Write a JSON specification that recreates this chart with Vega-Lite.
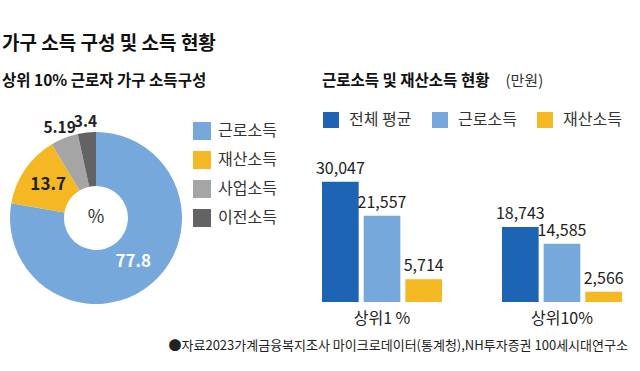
{
  "$schema": "https://vega.github.io/schema/vega-lite/v6.json",
  "background": "white",
  "padding": {"left": 2, "top": 35, "right": 0, "bottom": 0},
  "config": {"font": "Noto Sans CJK KR", "view": {"stroke": null}},
  "title": {"text": "가구 소득 구성 및 소득 현황", "anchor": "start", "fontSize": 19, "fontWeight": "bold", "color": "#111111", "offset": 19},
  "bounds": "flush",
  "spacing": 132,
  "resolve": {"scale": {"color": "independent"}, "legend": {"color": "independent"}},
  "hconcat": [
    {
      "width": 188,
      "height": 112,
      "title": {"text": "상위 10% 근로자 가구 소득구성", "anchor": "start", "fontSize": 15.5, "fontWeight": "bold", "color": "#111111", "offset": 25},
      "data": {"values": [
        {"type": "근로소득", "value": 77.8},
        {"type": "재산소득", "value": 13.7},
        {"type": "사업소득", "value": 5.19},
        {"type": "이전소득", "value": 3.4}
      ]},
      "layer": [
        {
          "mark": {"type": "arc", "innerRadius": 32, "outerRadius": 86},
          "encoding": {
            "theta": {"field": "value", "type": "quantitative", "stack": true},
            "order": {"field": "value", "type": "quantitative", "sort": "descending"},
            "color": {
              "field": "type", "type": "nominal",
              "scale": {"domain": ["근로소득", "재산소득", "사업소득", "이전소득"], "range": ["#77a8dc", "#f4b824", "#a5a5a5", "#636363"]},
              "legend": {"title": null, "orient": "none", "legendX": 191, "legendY": -40, "symbolType": "square", "symbolSize": 324, "symbolStrokeWidth": 0, "labelFontSize": 16, "labelColor": "#333333", "labelOffset": 7, "rowPadding": 11}
            }
          }
        },
        {
          "mark": {"type": "text", "radius": 58, "fontSize": 17, "fontWeight": "bold"},
          "encoding": {
            "theta": {"field": "value", "type": "quantitative", "stack": true},
            "order": {"field": "value", "type": "quantitative", "sort": "descending"},
            "text": {"condition": {"test": "datum.value > 10", "field": "value", "type": "nominal"}, "value": ""},
            "color": {"condition": {"test": "datum.value > 50", "value": "white"}, "value": "#222222"}
          }
        },
        {
          "mark": {"type": "text", "radius": 99, "dy": 2, "fontSize": 15.5, "fontWeight": "bold", "color": "#222222"},
          "encoding": {
            "theta": {"field": "value", "type": "quantitative", "stack": true},
            "order": {"field": "value", "type": "quantitative", "sort": "descending"},
            "text": {"condition": {"test": "datum.value < 10", "field": "value", "type": "nominal"}, "value": ""}
          }
        },
        {
          "data": {"values": [{"t": "%"}]},
          "mark": {"type": "text", "fontSize": 18, "color": "#333333"},
          "encoding": {"text": {"field": "t", "type": "nominal"}}
        }
      ]
    },
    {
      "width": 300,
      "height": 140,
      "title": {"text": "근로소득 및 재산소득 현황", "anchor": "start", "frame": "group", "fontSize": 15.5, "fontWeight": "bold", "color": "#111111", "offset": -16},
      "data": {"values": [
        {"group": "상위1 %", "series": "전체 평균", "value": 30047},
        {"group": "상위1 %", "series": "근로소득", "value": 21557},
        {"group": "상위1 %", "series": "재산소득", "value": 5714},
        {"group": "상위10%", "series": "전체 평균", "value": 18743},
        {"group": "상위10%", "series": "근로소득", "value": 14585},
        {"group": "상위10%", "series": "재산소득", "value": 2566}
      ]},
      "encoding": {
        "x": {
          "field": "group", "type": "nominal", "sort": ["상위1 %", "상위10%"],
          "scale": {"paddingInner": 0.333, "paddingOuter": 0},
          "axis": {"labelAngle": 0, "labelFontSize": 16, "labelColor": "#222222", "labelPadding": 8, "domain": false, "ticks": false,
            "title": "●자료2023가계금융복지조사 마이크로데이터(통계청),NH투자증권 100세시대연구소",
            "titleFontSize": 13, "titleFontWeight": "normal", "titleColor": "#222222", "titleX": -154, "titleY": 43, "titleAlign": "left", "titleBaseline": "middle"}
        },
        "xOffset": {"field": "series", "type": "nominal", "sort": ["전체 평균", "근로소득", "재산소득"], "scale": {"paddingInner": 0.12, "paddingOuter": 0}},
        "y": {
          "field": "value", "type": "quantitative", "scale": {"domain": [0, 35000]},
          "axis": {"title": "(만원)", "labels": false, "ticks": false, "domain": false, "grid": false, "titleAngle": 0, "titleAlign": "left", "titleBaseline": "middle", "titleX": 183, "titleY": -82, "titleFontSize": 15, "titleFontWeight": "normal", "titleColor": "#333333"}
        }
      },
      "layer": [
        {
          "mark": {"type": "bar"},
          "encoding": {
            "color": {
              "field": "series", "type": "nominal",
              "scale": {"domain": ["전체 평균", "근로소득", "재산소득"], "range": ["#1d64b5", "#77a8dc", "#f4b824"]},
              "legend": {"title": null, "orient": "none", "direction": "horizontal", "legendX": 1, "legendY": -50, "symbolType": "square", "symbolSize": 256, "symbolStrokeWidth": 0, "labelFontSize": 16, "labelColor": "#333333", "labelOffset": 10, "columnPadding": 20}
            }
          }
        },
        {
          "mark": {"type": "text", "baseline": "bottom", "dy": -5, "fontSize": 16, "color": "#222222"},
          "encoding": {"text": {"field": "value", "type": "quantitative", "format": ","}}
        }
      ]
    }
  ]
}
